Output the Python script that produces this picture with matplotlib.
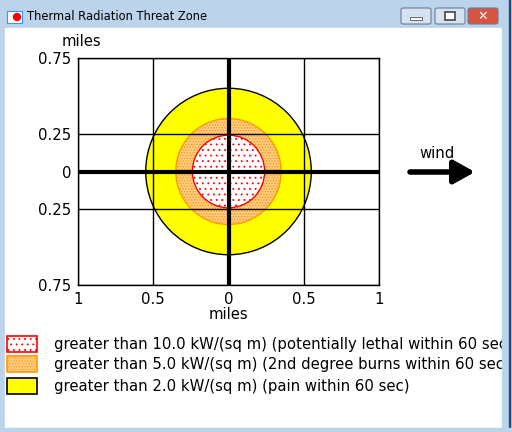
import matplotlib
matplotlib.use("Agg")
import matplotlib.pyplot as plt
import numpy as np
from matplotlib.patches import Circle, Rectangle, FancyBboxPatch

# ---- data ----
zone_labels = [
    "greater than 10.0 kW/(sq m) (potentially lethal within 60 sec)",
    "greater than 5.0 kW/(sq m) (2nd degree burns within 60 sec)",
    "greater than 2.0 kW/(sq m) (pain within 60 sec)",
]
zone_radii = [0.24, 0.35, 0.55]  # miles, downwind/crosswind extent
zone_face = ["white", "#FFCB85", "#FFFF00"]
zone_edge = ["#FF0000", "#FF9900", "black"]
zone_hatch = ["...", "......", None]

x_ticks = [-1, -0.5, 0, 0.5, 1]
x_tick_labels = ["1", "0.5", "0", "0.5", "1"]
y_ticks = [-0.75, -0.25, 0, 0.25, 0.75]
y_tick_labels = ["0.75", "0.25", "0", "0.25", "0.75"]

title = "Thermal Radiation Threat Zone"
FS = 10.7
W, H = 512, 432
plt.rcParams["hatch.linewidth"] = 0.6

fig = plt.figure(figsize=(W / 100, H / 100), dpi=100)

# background (window chrome) axes in pixel coords
bg = fig.add_axes([0, 0, 1, 1], zorder=0)
bg.set_xlim(0, W)
bg.set_ylim(H, 0)
bg.axis("off")
bg.add_patch(Rectangle((0, 0), W, H, color="#BCD3EC"))
grad = np.linspace(0, 1, 50).reshape(-1, 1)
bg.imshow(grad, extent=(0, W, 28, 0), cmap=matplotlib.colors.LinearSegmentedColormap.from_list(
    "t", ["#A9C3E2", "#C9DBF0"]), aspect="auto", zorder=0.5)
bg.add_patch(Rectangle((5, 28), 497, 400, color="white", zorder=1))
# icon
bg.add_patch(Rectangle((7, 11), 15, 12, facecolor="white", edgecolor="#3399FF", lw=0.8, zorder=2))
bg.add_patch(Circle((17, 17), 3.5, color="red", zorder=3))
bg.text(27, 17, title, fontsize=8.3, va="center", ha="left", color="black", zorder=3)
# buttons
for x0, fc in [(401, "#D5E2F2"), (435, "#D5E2F2"), (468, "#D9533F")]:
    bg.add_patch(FancyBboxPatch((x0, 8), 30, 16, boxstyle="round,pad=0,rounding_size=2",
                                facecolor=fc, edgecolor="#6A7E98", lw=0.8, zorder=2))
bg.add_patch(Rectangle((410, 17), 12, 3, facecolor="white", edgecolor="#555", lw=0.6, zorder=3))
bg.add_patch(Rectangle((445, 12), 10, 8, facecolor="white", edgecolor="#444", lw=1.2, zorder=3))
bg.text(483, 16, "✕", fontsize=9, fontweight="bold", color="white", ha="center", va="center", zorder=3)

# main chart axes
L, R, T, B = 78, 379, 58, 285
ax = fig.add_axes([L / W, 1 - B / H, (R - L) / W, (B - T) / H], zorder=2)
ax.set_xlim(-1, 1)
ax.set_ylim(-0.75, 0.75)
ax.set_facecolor("white")

for r, fc, ec, h in reversed(list(zip(zone_radii, zone_face, zone_edge, zone_hatch))):
    if h:
        ax.add_patch(Circle((0, 0), r, facecolor=fc, edgecolor=ec, hatch=h, lw=0, zorder=1))
    else:
        ax.add_patch(Circle((0, 0), r, facecolor=fc, lw=0, zorder=1))
    ax.add_patch(Circle((0, 0), r, facecolor="none", edgecolor=ec, lw=1.0, zorder=1.5))

ax.set_xticks(x_ticks)
ax.set_xticklabels(x_tick_labels, fontsize=FS)
ax.set_yticks(y_ticks)
ax.set_yticklabels(y_tick_labels, fontsize=FS)
ax.tick_params(length=0, pad=5)
ax.grid(True, color="black", lw=1.0, zorder=2)
ax.set_axisbelow(False)
ax.axhline(0, color="black", lw=3, zorder=3)
ax.axvline(0, color="black", lw=3, zorder=3)
for s in ax.spines.values():
    s.set_linewidth(1.0)
    s.set_zorder(4)
ax.set_xlabel("miles", fontsize=FS, labelpad=0)

# top-left y unit label, wind arrow, legend in pixel coords (overlay)
ov = fig.add_axes([0, 0, 1, 1], zorder=3)
ov.set_xlim(0, W)
ov.set_ylim(H, 0)
ov.axis("off")
ov.patch.set_alpha(0)
ov.text(81, 41, "miles", fontsize=FS, ha="center", va="center")
ov.text(437, 154, "wind", fontsize=FS, ha="center", va="center")
ov.annotate("", xy=(475, 172), xytext=(410, 172),
            arrowprops=dict(arrowstyle="-|>,head_length=0.9,head_width=0.5", lw=4,
                            color="black", mutation_scale=14, shrinkA=0, shrinkB=0))

rows_y = [344, 364, 386]
for yy, lab, fc, ec, h in zip(rows_y, zone_labels, zone_face, zone_edge, zone_hatch):
    if h:
        ov.add_patch(Rectangle((7, yy - 8), 30, 16, facecolor=fc, edgecolor=ec, hatch=h, lw=0))
    else:
        ov.add_patch(Rectangle((7, yy - 8), 30, 16, facecolor=fc, lw=0))
    ov.add_patch(Rectangle((7, yy - 8), 30, 16, facecolor="none", edgecolor=ec, lw=1.2))
    ov.text(54, yy, lab, fontsize=FS, ha="left", va="center")

# right border over clipped legend text
top = fig.add_axes([0, 0, 1, 1], zorder=4)
top.set_xlim(0, W)
top.set_ylim(H, 0)
top.axis("off")
top.patch.set_alpha(0)
top.add_patch(Rectangle((502, 28), 10, 404, color="#BCD3EC"))
top.add_patch(Rectangle((508.5, 0), 1.5, H, color="#2C4A6E"))
top.add_patch(Rectangle((0, 428), W, 4, color="#BCD3EC"))

fig.savefig("out.png", dpi=100)
